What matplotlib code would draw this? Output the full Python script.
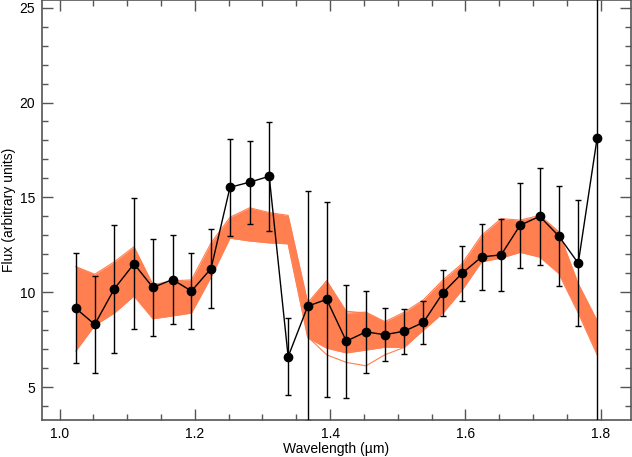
import matplotlib
matplotlib.use("Agg")
import matplotlib.pyplot as plt
from matplotlib.ticker import MultipleLocator

plt.rcParams['font.family'] = ['Liberation Sans', 'DejaVu Sans']

# Observed spectrum
wavelength = [1.024, 1.052, 1.081, 1.110, 1.138, 1.167, 1.195, 1.224, 1.252, 1.281,
              1.310, 1.338, 1.367, 1.395, 1.424, 1.453, 1.481, 1.510, 1.538, 1.567,
              1.595, 1.624, 1.653, 1.681, 1.710, 1.738, 1.767, 1.795]
flux = [9.15, 8.30, 10.18, 11.50, 10.25, 10.67, 10.06, 11.25, 15.53, 15.80,
        16.11, 6.60, 9.27, 9.62, 7.42, 7.91, 7.76, 7.95, 8.41, 9.97,
        10.99, 11.86, 11.97, 13.53, 14.00, 12.97, 11.53, 18.15]
flux_err = [2.90, 2.58, 3.38, 3.46, 2.56, 2.36, 2.00, 2.09, 2.57, 2.19,
            2.87, 2.04, 6.05, 5.16, 2.97, 2.17, 1.40, 1.19, 1.12, 1.20,
            1.47, 1.72, 1.90, 2.25, 2.55, 2.62, 3.33, 16.0]

# Model ensemble envelope
band_upper = [11.35, 10.95, 11.60, 12.40, 10.40, 10.60, 10.65, 12.60, 13.95, 14.45,
              14.20, 14.05, 9.45, 10.60, 8.90, 8.95, 8.45, 8.95, 9.60, 10.65,
              11.50, 13.00, 13.88, 13.80, 14.05, 13.20, 10.45, 8.50]
band_lower = [6.90, 8.25, 8.90, 9.80, 8.60, 8.75, 8.90, 10.80, 12.85, 12.70,
              12.60, 12.55, 7.60, 7.05, 6.80, 6.95, 7.10, 7.10, 8.00, 8.90,
              10.10, 11.60, 11.80, 12.10, 11.85, 11.00, 8.90, 6.70]
# a few individual stray model curves
stray_wl = [1.338, 1.367, 1.395, 1.424, 1.453, 1.481, 1.510]
stray_low = [12.55, 7.65, 6.70, 6.30, 6.12, 6.70, 7.10]
stray_wl2 = [1.367, 1.395, 1.424, 1.453]
stray_high = [9.30, 10.60, 9.00, 8.90]

band_color = '#ff7f50'
spine_color = '#555555'

fig = plt.figure(figsize=(6.32, 4.57), dpi=100)
ax_h = 419.7 / 457
ax = fig.add_axes([42/632, 1 - ax_h, (631 - 42)/632, ax_h - 0.001])

ax.fill_between(wavelength, band_lower, band_upper, color=band_color, lw=0, zorder=1)
ax.plot(wavelength, band_upper, color=band_color, lw=0.8, zorder=1)
ax.plot(wavelength, band_lower, color=band_color, lw=0.8, zorder=1)
ax.plot(stray_wl, stray_low, color=band_color, lw=0.8, zorder=1)
ax.plot(stray_wl2, stray_high, color=band_color, lw=0.8, zorder=1)

ax.errorbar(wavelength, flux, yerr=flux_err, fmt='o-', color='black', ms=6,
            lw=1.0, elinewidth=1.0, ecolor='black', capsize=2.5, capthick=1.0, zorder=3)

ax.set_xlim(0.974, 1.845)
ax.set_ylim(3.28, 25.38)
ax.xaxis.set_major_locator(MultipleLocator(0.2))
ax.xaxis.set_minor_locator(MultipleLocator(0.05))
ax.yaxis.set_major_locator(MultipleLocator(5))
ax.yaxis.set_minor_locator(MultipleLocator(1))
ax.xaxis.set_major_formatter(plt.FuncFormatter(lambda v, p: f"{v:.1f}"))
ax.yaxis.set_major_formatter(plt.FuncFormatter(lambda v, p: f"{v:.0f}"))

ax.tick_params(which='both', direction='in', top=True, right=True, color=spine_color,
               labelsize=10, width=1.0)
ax.tick_params(which='major', length=8)
ax.tick_params(which='minor', length=4.5)
ax.tick_params(axis='x', pad=5.5)
ax.tick_params(axis='y', pad=5)
for s in ax.spines.values():
    s.set_color(spine_color)
    s.set_linewidth(1.2)

ax.set_xlabel('Wavelength (µm)', fontsize=10)
ax.set_ylabel('Flux (arbitrary units)', fontsize=10)
ax.xaxis.set_label_coords(0.5, -(442.5 - 419.7) / 419.7)
ax.yaxis.set_label_coords((16 - 42) / 589, 0.5)

fig.savefig('out.png', dpi=100)
